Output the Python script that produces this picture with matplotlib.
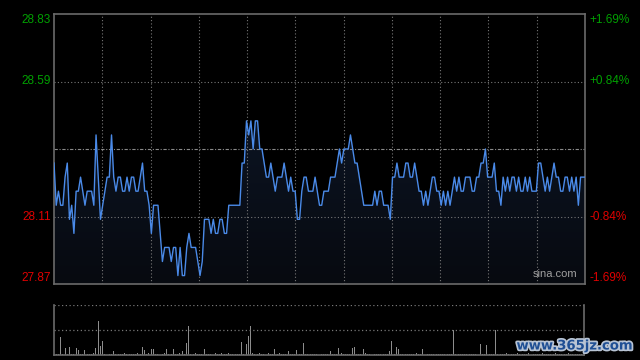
import matplotlib
matplotlib.use("Agg")
import matplotlib.pyplot as plt
import matplotlib.patheffects as pe
import numpy as np
from matplotlib.colors import LinearSegmentedColormap

# intraday prices, one per minute
prices = [
    28.30, 28.15, 28.20, 28.15, 28.15, 28.25, 28.30, 28.10, 28.15, 28.05,
    28.20, 28.20, 28.25, 28.20, 28.15, 28.20, 28.20, 28.20, 28.15, 28.40,
    28.25, 28.10, 28.15, 28.20, 28.25, 28.25, 28.40, 28.25, 28.20, 28.25,
    28.25, 28.20, 28.20, 28.25, 28.20, 28.25, 28.25, 28.20, 28.20, 28.25,
    28.30, 28.20, 28.20, 28.15, 28.05, 28.15, 28.15, 28.15, 28.05, 27.95,
    28.00, 28.00, 28.00, 27.95, 28.00, 28.00, 27.90, 28.00, 27.90, 27.90,
    28.00, 28.05, 28.00, 28.00, 28.00, 27.95, 27.90, 27.95, 28.10, 28.10,
    28.10, 28.05, 28.10, 28.05, 28.05, 28.10, 28.10, 28.05, 28.05, 28.15,
    28.15, 28.15, 28.15, 28.15, 28.15, 28.30, 28.30, 28.45, 28.40, 28.45,
    28.35, 28.45, 28.45, 28.35, 28.35, 28.30, 28.25, 28.25, 28.30, 28.25,
    28.20, 28.25, 28.25, 28.25, 28.30, 28.25, 28.20, 28.25, 28.20, 28.20,
    28.10, 28.10, 28.20, 28.25, 28.25, 28.20, 28.20, 28.20, 28.25, 28.20,
    28.15, 28.15, 28.20, 28.20, 28.20, 28.25, 28.25, 28.25, 28.30, 28.35,
    28.30, 28.35, 28.35, 28.35, 28.40, 28.35, 28.30, 28.30, 28.25, 28.20,
    28.15, 28.15, 28.15, 28.15, 28.15, 28.20, 28.15, 28.20, 28.20, 28.15,
    28.15, 28.15, 28.10, 28.25, 28.25, 28.30, 28.25, 28.25, 28.25, 28.30,
    28.30, 28.25, 28.25, 28.30, 28.25, 28.20, 28.20, 28.15, 28.20, 28.15,
    28.20, 28.25, 28.25, 28.20, 28.20, 28.15, 28.20, 28.15, 28.20, 28.15,
    28.20, 28.25, 28.20, 28.25, 28.20, 28.20, 28.25, 28.25, 28.25, 28.20,
    28.20, 28.25, 28.25, 28.30, 28.30, 28.35, 28.25, 28.25, 28.25, 28.30,
    28.20, 28.20, 28.15, 28.25, 28.20, 28.25, 28.20, 28.25, 28.25, 28.20,
    28.25, 28.20, 28.20, 28.25, 28.20, 28.25, 28.20, 28.20, 28.20, 28.30,
    28.30, 28.25, 28.20, 28.25, 28.20, 28.25, 28.30, 28.25, 28.25, 28.20,
    28.20, 28.25, 28.25, 28.20, 28.25, 28.20, 28.25, 28.15, 28.25, 28.25,
    28.25,
]

# volume per minute (pixel-ish units, panel top = 50)
volume = [
    3, 1, 1, 18, 1, 7, 1, 8, 1, 1, 7, 5, 1, 1, 5, 1, 1, 1, 2, 7,
    34, 9, 14, 1, 4, 1, 1, 4, 1, 1, 1, 1, 2, 1, 1, 1, 1, 1, 2, 1,
    8, 5, 1, 2, 6, 6, 1, 1, 4, 1, 2, 6, 1, 1, 6, 1, 1, 2, 4, 1,
    12, 29, 1, 1, 2, 1, 1, 1, 6, 1, 1, 1, 1, 2, 1, 1, 2, 1, 1, 2,
    1, 1, 1, 1, 1, 13, 1, 11, 19, 29, 2, 1, 1, 2, 1, 1, 1, 2, 1, 1,
    6, 1, 2, 1, 1, 1, 4, 1, 1, 1, 5, 1, 1, 12, 1, 1, 1, 1, 1, 1,
    9, 1, 1, 1, 1, 4, 1, 1, 1, 7, 2, 1, 1, 1, 1, 7, 8, 1, 1, 1,
    6, 2, 1, 1, 1, 1, 1, 1, 1, 1, 1, 1, 4, 14, 1, 8, 6, 1, 1, 1,
    1, 1, 1, 1, 2, 1, 1, 6, 1, 1, 1, 1, 1, 1, 1, 1, 1, 1, 1, 1,
    1, 25, 1, 1, 1, 1, 1, 1, 1, 1, 1, 1, 1, 11, 1, 1, 10, 1, 1, 1,
    25, 1, 1, 1, 1, 2, 1, 1, 1, 1, 2, 1, 1, 1, 1, 2, 1, 1, 1, 1,
    1, 2, 1, 1, 1, 1, 1, 2, 1, 1, 1, 1, 1, 2, 1, 1, 1, 1, 1, 1,
    1,
]

prev_close = 28.35
y_ticks = [28.83, 28.59, 28.11, 27.87]
pct_labels = ["+1.69%", "+0.84%", "-0.84%", "-1.69%"]
tick_colors = ["#00a000", "#00a000", "#e00000", "#e00000"]

bg = "#000000"
grid_c = "#777777"
spine_c = "#6a6a6a"
font = "Liberation Sans"

fig = plt.figure(figsize=(6.4, 3.6), dpi=100, facecolor=bg)
ax = fig.add_axes([54 / 640, 1 - 284 / 360, 531 / 640, 270 / 360], facecolor=bg)
axv = fig.add_axes([54 / 640, 1 - 355 / 360, 530 / 640, 50 / 360], facecolor=bg)

x = np.arange(len(prices))
ymin, ymax = y_ticks[-1], y_ticks[0]
ax.set_xlim(0, len(prices) - 1)
ax.set_ylim(ymin, ymax)

# gradient fill under the price line
fill = ax.fill_between(x, prices, ymin, color="none", lw=0)
cmap = LinearSegmentedColormap.from_list("g", ["#070a10", "#0f1a2e"])
grad = np.linspace(0, 1, 200).reshape(-1, 1)
im = ax.imshow(grad, cmap=cmap, aspect="auto", origin="lower",
               extent=[0, len(prices) - 1, ymin, ymax], zorder=1)
im.set_clip_path(fill.get_paths()[0], transform=ax.transData)

# grid
for k in range(1, 11):
    ax.axvline((len(prices) - 1) * k / 11, color=grid_c, lw=0.8, ls=(0, (1, 2)), zorder=2)
for v in [y_ticks[1], y_ticks[2]]:
    ax.axhline(v, color=grid_c, lw=0.8, ls=(0, (1, 2)), zorder=2)
ax.axhline(prev_close, color="#8a8a8a", lw=0.8, ls=(0, (3, 1.5, 1, 1.5)), zorder=2)

ax.plot(x, prices, color="#4a8ae8", lw=1.0, zorder=3)

ax.set_xticks([])
ax.set_yticks([])
for s in ax.spines.values():
    s.set_color(spine_c)
    s.set_linewidth(1.2)

# price / percent labels
label_y = [ymax - 0.02, y_ticks[1], y_ticks[2], ymin + 0.02]
for val, ly, pl, c in zip(y_ticks, label_y, pct_labels, tick_colors):
    ax.text(-0.006, ly, f"{val:.2f}", transform=ax.get_yaxis_transform(),
            ha="right", va="center", color=c, fontsize=8.5, family=font)
    ax.text(1.009, ly, pl, transform=ax.get_yaxis_transform(),
            ha="left", va="center", color=c, fontsize=8.5, family=font)

ax.text(0.985, 0.02, "sina.com", transform=ax.transAxes, ha="right", va="bottom",
        color="#a0a0a0", fontsize=8, family=font, zorder=4)

# volume panel
axv.set_xlim(0, len(volume) - 1)
axv.set_ylim(0, 50)
axv.bar(np.arange(len(volume)), volume, width=0.45, color="#8c8c8c", lw=0)
for v in [25, 50]:
    axv.axhline(v, color=grid_c, lw=0.9, ls=(0, (1, 2)))
axv.set_xticks([])
axv.set_yticks([])
axv.spines["top"].set_visible(False)
for k in ["left", "right", "bottom"]:
    axv.spines[k].set_color(spine_c)
    axv.spines[k].set_linewidth(1.2)

# site watermark
fig.text(575 / 640, 1 - 346 / 360, "www.365jz.com", ha="center", va="center",
         color="#1f4f94", fontsize=9.5, fontweight="bold", family="DejaVu Sans",
         path_effects=[pe.withStroke(linewidth=2.5, foreground="#b8c4d4")])

fig.savefig("out.png", dpi=100, facecolor=bg)
